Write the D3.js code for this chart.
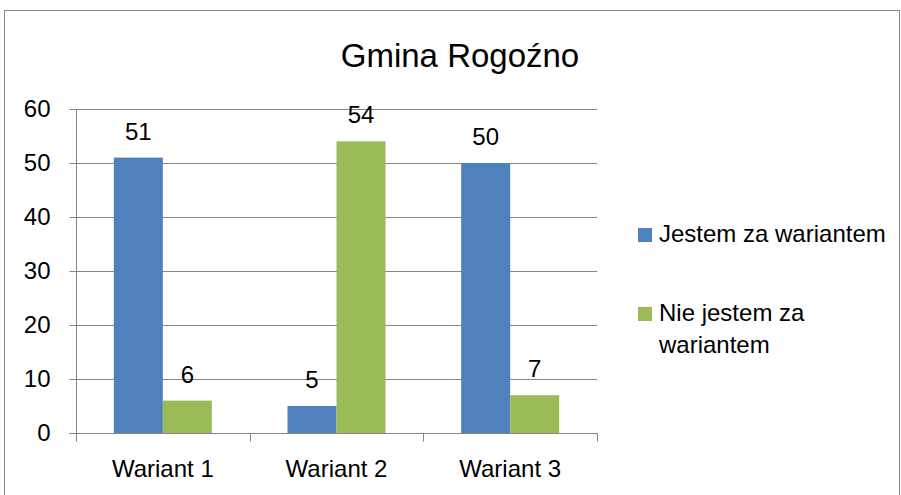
<!DOCTYPE html>
<html>
<head>
<meta charset="utf-8">
<script src="https://cdn.jsdelivr.net/npm/d3@7"></script>
<style>
  body { margin: 0; background: #fff; }
  text { font-family: "Liberation Sans", Arial, sans-serif; fill: #000; }
</style>
</head>
<body>
<svg id="chart" width="901" height="495"></svg>
<script>
var categories = ['Wariant 1', 'Wariant 2', 'Wariant 3'];
var seriesNames = ['Jestem za wariantem', 'Nie jestem za wariantem'];
var seriesZa = [51, 5, 50];
var seriesNie = [6, 54, 7];
var yTicks = [0, 10, 20, 30, 40, 50, 60];
var colors = ['#4F81BD', '#9BBB59'];

var svg = d3.select('#chart');
var FONT = '"Liberation Sans", Arial, sans-serif';

// outer frame
svg.append('rect')
    .attr('x', 4.5).attr('y', 10.5)
    .attr('width', 895).attr('height', 500)
    .attr('fill', 'none').attr('stroke', '#878787');

var plot = { left: 76, right: 597, top: 109, bottom: 433 };

var x = d3.scaleBand().domain(categories).range([plot.left, plot.right]).paddingInner(0).paddingOuter(0);
var xInner = d3.scaleBand().domain([0, 1]).range([0, x.bandwidth()]).paddingOuter(0.772).paddingInner(0);
var y = d3.scaleLinear().domain([0, 60]).range([plot.bottom, plot.top]);

// gridlines
svg.append('g').selectAll('line').data(yTicks.slice(1)).enter().append('line')
    .attr('x1', plot.left).attr('x2', plot.right)
    .attr('y1', function (d) { return Math.round(y(d)) + 0.5; })
    .attr('y2', function (d) { return Math.round(y(d)) + 0.5; })
    .attr('stroke', '#868686').attr('stroke-width', 1);

// bars
var rows = categories.map(function (c, i) {
    return { cat: c, vals: [seriesZa[i], seriesNie[i]] };
});
var groups = svg.append('g').selectAll('g').data(rows).enter().append('g')
    .attr('transform', function (d) { return 'translate(' + x(d.cat) + ',0)'; });

groups.selectAll('rect').data(function (d) { return d.vals; }).enter().append('rect')
    .attr('x', function (d, i) { return xInner(i); })
    .attr('width', xInner.bandwidth())
    .attr('y', function (d) { return y(d); })
    .attr('height', function (d) { return y(0) - y(d); })
    .attr('fill', function (d, i) { return colors[i]; });

groups.selectAll('text').data(function (d) { return d.vals; }).enter().append('text')
    .attr('x', function (d, i) { return xInner(i) + xInner.bandwidth() / 2; })
    .attr('y', function (d) { return y(d) - 18; })
    .attr('text-anchor', 'middle')
    .style('font-size', '24px')
    .text(function (d) { return d; });

// y axis
var yAxis = svg.append('g').attr('transform', 'translate(' + (plot.left + 0.5) + ',0)')
    .call(d3.axisLeft(y).tickValues(yTicks).tickSize(7).tickPadding(19));
yAxis.select('.domain').attr('stroke', '#868686').attr('d', 'M0,' + plot.top + 'V' + (plot.bottom + 0.5));
yAxis.selectAll('.tick line').attr('stroke', '#868686');
yAxis.selectAll('.tick text').style('font-size', '24px').style('font-family', FONT).attr('fill', '#000');

// x axis
var xAxis = svg.append('g').attr('transform', 'translate(0,' + (plot.bottom + 0.5) + ')')
    .call(d3.axisBottom(x).tickSize(0).tickPadding(26));
xAxis.select('.domain').attr('stroke', '#868686').attr('d', 'M' + (plot.left - 7) + ',0H' + (plot.right + 0.5));
xAxis.selectAll('.tick text').style('font-size', '24px').style('font-family', FONT).attr('fill', '#000');
var xBounds = categories.map(function (c) { return x(c); }).concat([plot.right]);
xAxis.selectAll('.bound').data(xBounds).enter().append('line')
    .attr('class', 'bound')
    .attr('x1', function (d) { return Math.round(d) + 0.5; })
    .attr('x2', function (d) { return Math.round(d) + 0.5; })
    .attr('y1', 0).attr('y2', 8)
    .attr('stroke', '#868686');

// title
svg.append('text')
    .attr('x', 460).attr('y', 67)
    .attr('text-anchor', 'middle')
    .style('font-size', '33px')
    .text('Gmina Rogoźno');

// legend
var legendRows = [
    { name: 'Jestem za wariantem', lines: ['Jestem za wariantem'], y: 228 },
    { name: 'Nie jestem za wariantem', lines: ['Nie jestem za', 'wariantem'], y: 307 }
];
var legend = svg.append('g').selectAll('g').data(legendRows).enter().append('g');
legend.append('rect')
    .attr('x', 638).attr('y', function (d) { return d.y; })
    .attr('width', 14).attr('height', 14)
    .attr('fill', function (d, i) { return colors[i]; });
legend.each(function (d) {
    var t = d3.select(this).append('text').style('font-size', '24px');
    d.lines.forEach(function (line, k) {
        t.append('tspan').attr('x', 659).attr('y', d.y + 14 + k * 32).text(line);
    });
});
</script>
</body>
</html>
